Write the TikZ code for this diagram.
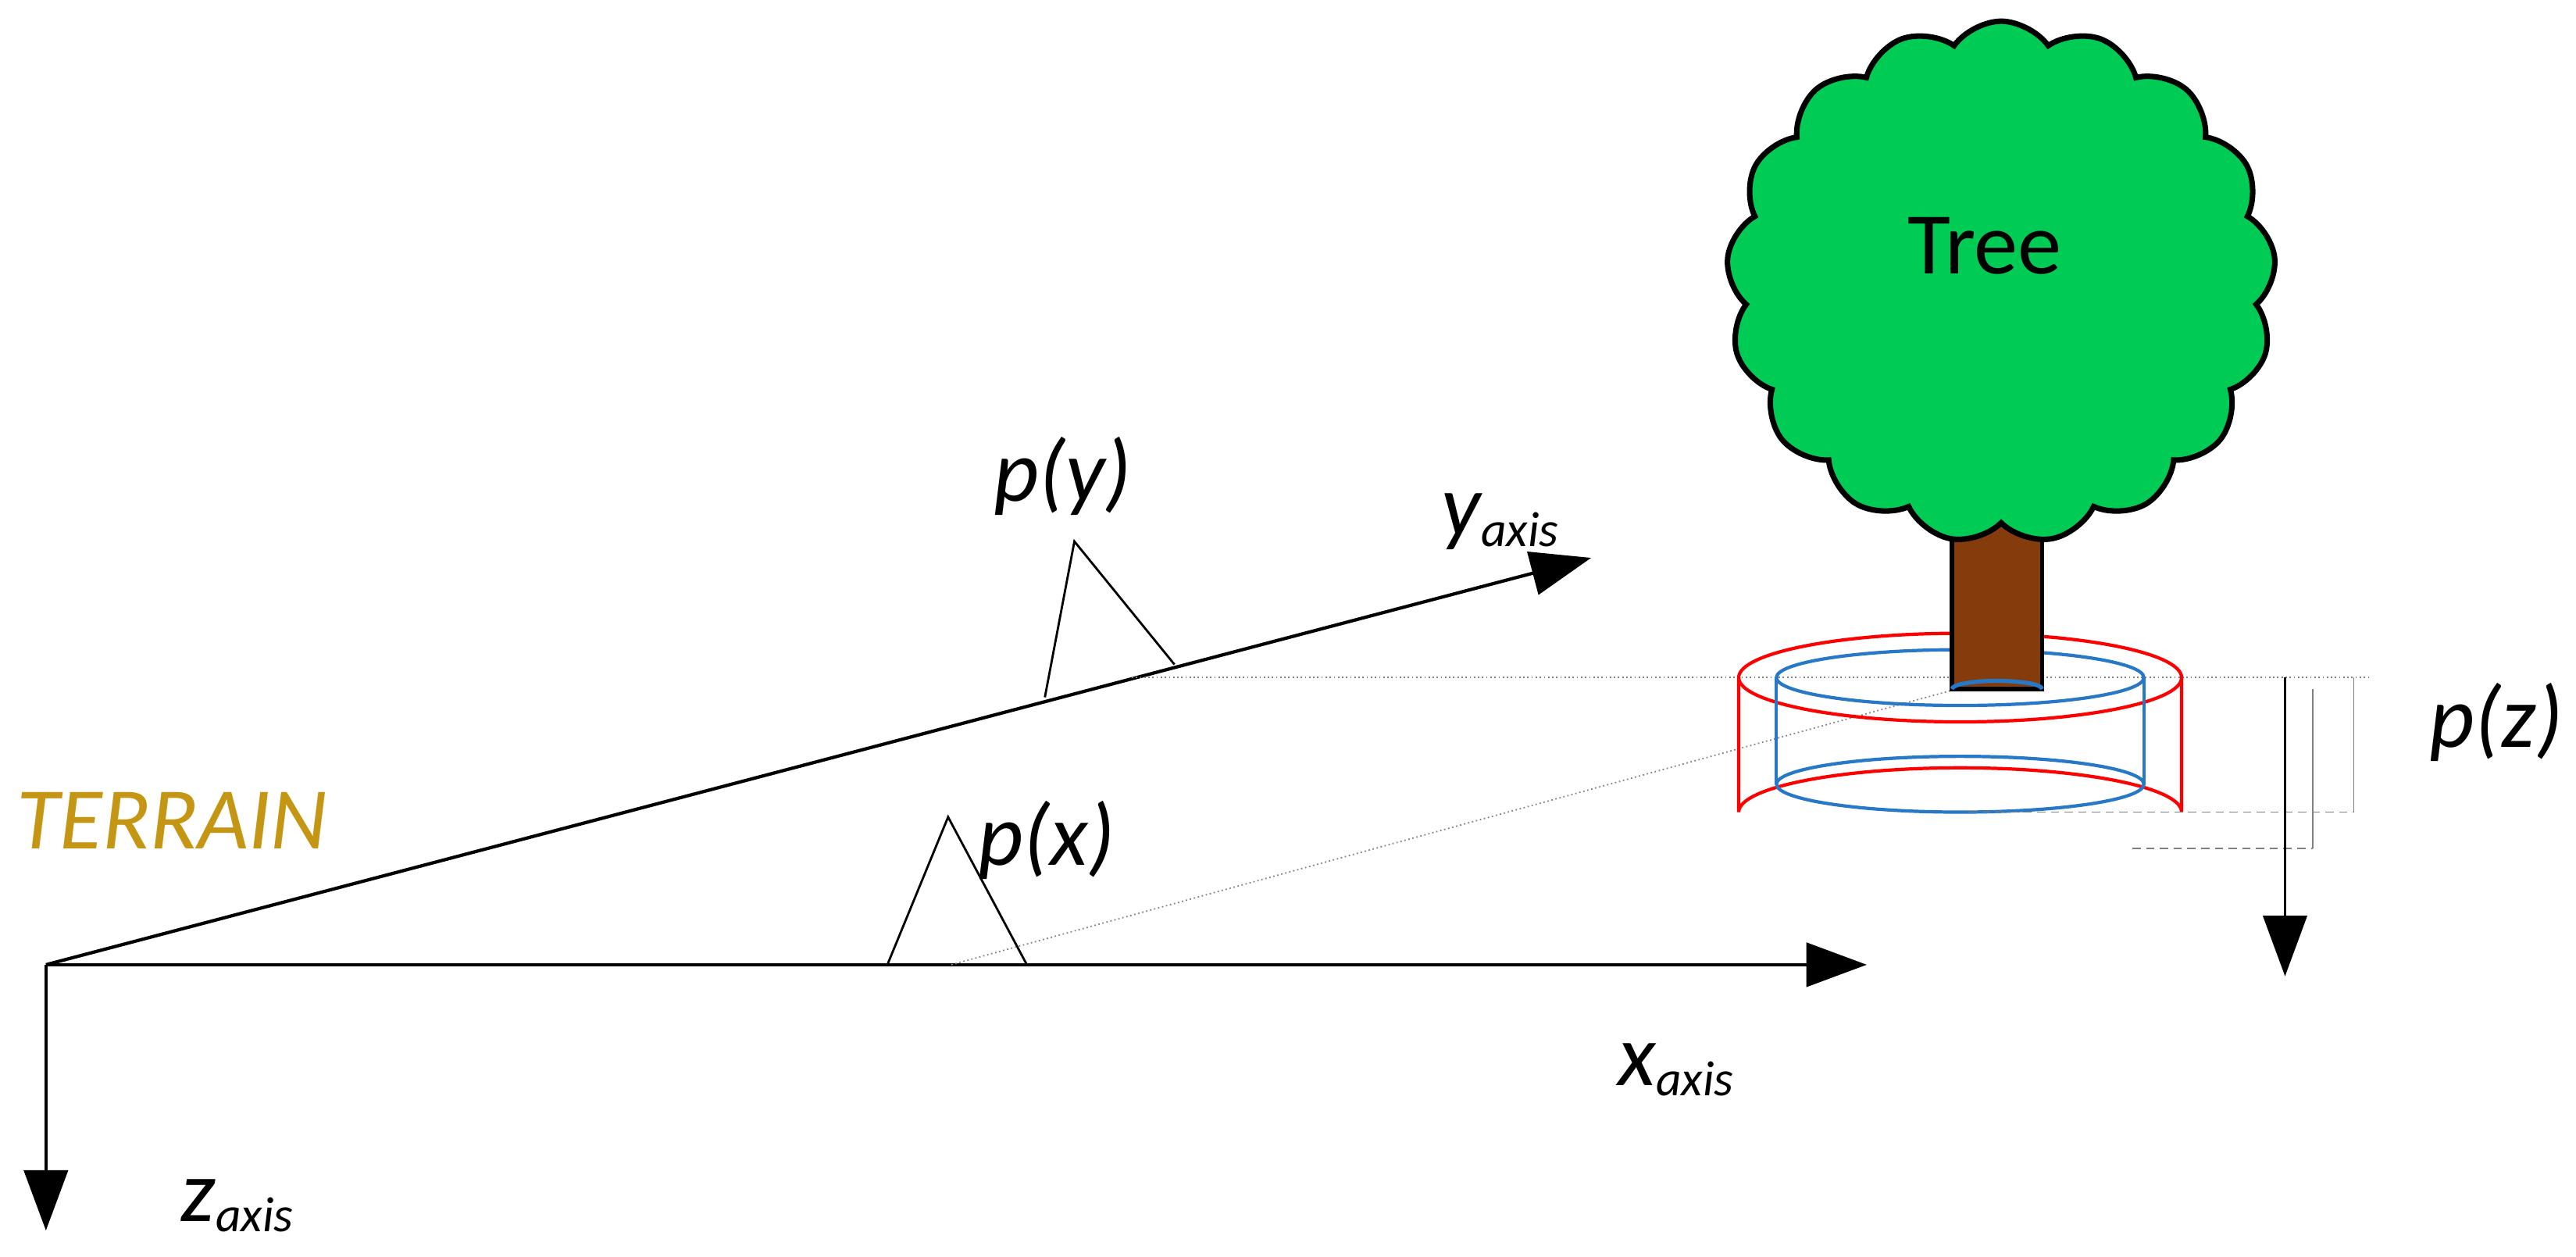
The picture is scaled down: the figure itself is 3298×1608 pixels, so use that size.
\documentclass[tikz,border=0pt]{standalone}
\usepackage{fontspec}
\setmainfont{Carlito}
\usetikzlibrary{arrows.meta,shapes.symbols}
\definecolor{treegreen}{RGB}{0,204,85}
\definecolor{trunkbrown}{RGB}{132,60,12}
\definecolor{terrain}{RGB}{196,150,20}
\definecolor{ringblue}{RGB}{40,120,200}
\tikzset{
  axis/.style={line width=1.2pt,-{Triangle[length=22pt,width=16pt]}},
  lbl/.style={font=\fontsize{32}{36}\selectfont\itshape},
  guide/.style={gray,line width=0.5pt},
}
\begin{document}
\begin{tikzpicture}[x=0.01cm,y=-0.01cm]
\useasboundingbox (0,0) rectangle (3298,1608);
\begin{scope}[xscale=2.1,yscale=2.1]
% axes
\coordinate (O) at (28,588);
\coordinate (xe) at (1138,588);
\coordinate (ye) at (970,340);
\coordinate (ze) at (28,750);
\draw[axis] (O) -- (xe);
\draw[axis] (O) -- (ye);
\draw[axis] (O) -- (ze);
\node[lbl] (xl) at (1022,652) {x\textsubscript{\fontsize{18}{20}\selectfont axis}};
\node[lbl] (yl) at (915,318) {y\textsubscript{\fontsize{18}{20}\selectfont axis}};
\node[lbl] (zl) at (145,735) {z\textsubscript{\fontsize{18}{20}\selectfont axis}};
\node[lbl,color=terrain] (ter) at (105,500) {TERRAIN};
% peaks
\draw[line width=0.8pt] (637,425) -- (655,330) -- (716,405);
\node[lbl] (py) at (648,290) {p(y)};
\draw[line width=0.8pt] (541,588) -- (578,498) -- (626,588);
\node[lbl] (px) at (638,512) {p(x)};
% guides
\draw[guide,densely dotted] (690,413) -- (1445,413);
\draw[guide,densely dotted] (580,588) -- (1200,418);
% pot
\draw[red,line width=1.2pt] (1060,413) -- (1060,495) arc[start angle=180,end angle=360,x radius=135,y radius=27] -- (1330,413);
\draw[red,line width=1.2pt] (1195,413) ellipse[x radius=135,y radius=27];
\draw[ringblue,line width=1.2pt] (1083,413) -- (1083,478);
\draw[ringblue,line width=1.2pt] (1307,413) -- (1307,478);
\draw[ringblue,line width=1.2pt] (1195,478) ellipse[x radius=112,y radius=17];
\draw[ringblue,line width=1.2pt] (1195,413) ellipse[x radius=112,y radius=17];
% trunk and crown
\draw[fill=trunkbrown,line width=1.5pt] (1190,262) rectangle (1245,420);
\draw[ringblue,line width=1.5pt] (1190,420) arc[start angle=180,end angle=360,x radius=27.5,y radius=5];
\node[cloud,cloud puffs=17,cloud puff arc=110,aspect=1,draw,line width=2pt,fill=treegreen,
  minimum width=200,minimum height=190,inner sep=0pt] (tree) at (1220,172) {};
\node[font=\fontsize{32}{36}\selectfont] (treel) at (1210,150) {Tree};
% depth marks
\draw[guide] (1435,413) -- (1435,495);
\draw[guide,densely dashed] (1200,495) -- (1435,495);
\draw[guide] (1410,420) -- (1410,517);
\draw[guide,densely dashed] (1300,517) -- (1410,517);
\coordinate (zt) at (1393,413);
\coordinate (zb) at (1393,595);
\draw[axis,line width=0.8pt] (zt) -- (zb);
\node[lbl] (pz) at (1522,440) {p(z)};
\end{scope}
\end{tikzpicture}
\end{document}
